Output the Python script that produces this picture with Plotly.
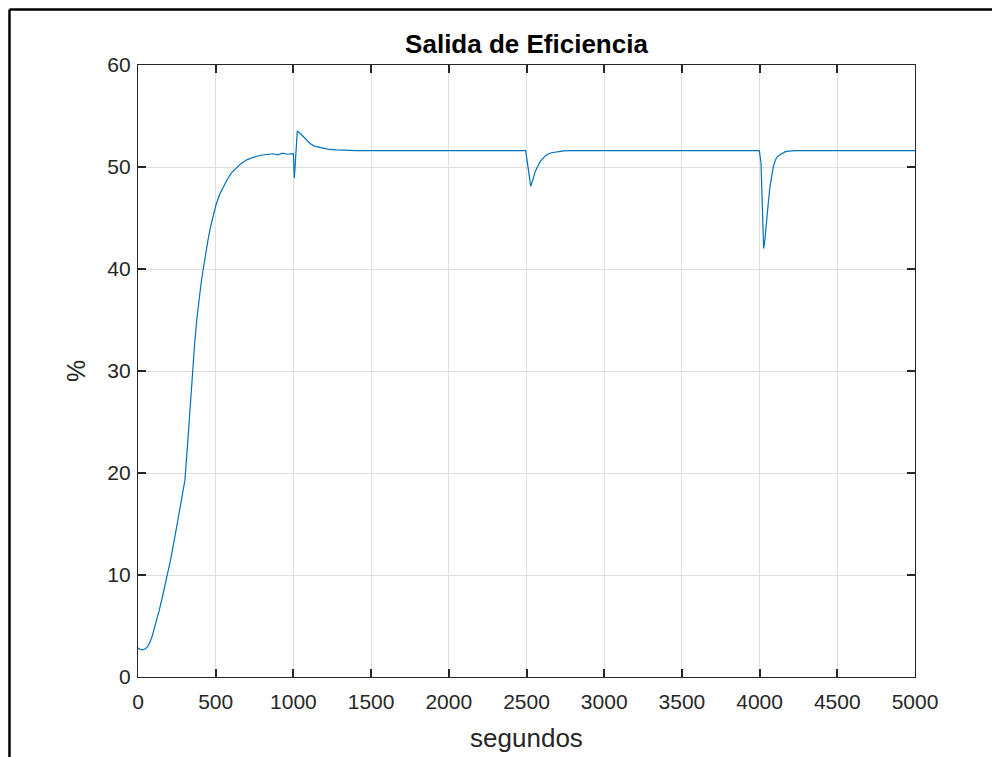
import plotly.graph_objects as go

# Data
tiempo = [0, 15, 30, 45, 60, 75, 90, 105, 120, 136, 152, 168, 185, 210, 245, 281, 302,
          320, 335, 352, 365, 378, 392, 406, 420, 435, 450, 465, 480, 500, 525, 550,
          575, 600, 630, 660, 700, 742, 790, 828, 870, 900, 930, 960, 1000,
          1006, 1025, 1040, 1064, 1085, 1107, 1135, 1171, 1220, 1279, 1400,
          2495, 2527, 2540, 2555, 2570, 2587, 2608, 2630, 2660, 2694, 2740, 2780,
          3998, 4009, 4026, 4035, 4046, 4056, 4067, 4078, 4088, 4100, 4110, 4131,
          4166, 4200, 4238, 5000]
eficiencia = [2.85, 2.7, 2.65, 2.75, 2.95, 3.35, 3.95, 4.7, 5.6, 6.5, 7.5, 8.6, 9.8,
              11.5, 14.4, 17.4, 19.3,
              23.0, 26.5, 30.0, 32.8, 35.0, 37.0, 38.6, 40.0, 41.5, 42.8, 44.0, 45.0,
              46.2, 47.3, 48.1, 48.8, 49.4, 49.9, 50.3, 50.7, 50.95, 51.15, 51.25,
              51.3, 51.2, 51.35, 51.25, 51.3,
              48.9, 53.5, 53.35, 53.0, 52.6, 52.3, 52.05, 51.9, 51.75, 51.68, 51.6,
              51.6, 48.1, 48.7, 49.5, 50.0, 50.5, 50.9, 51.2, 51.4, 51.5, 51.58, 51.6,
              51.6, 50.4, 42.0, 43.0, 44.5, 46.5, 48.1, 49.3, 50.0, 50.6, 50.95, 51.2,
              51.5, 51.58, 51.6, 51.6]

x_ticks = [0, 500, 1000, 1500, 2000, 2500, 3000, 3500, 4000, 4500, 5000]
y_ticks = [0, 10, 20, 30, 40, 50, 60]

titulo = "Salida de Eficiencia"
x_label = "segundos"
y_label = "%"

FONT = "Liberation Sans, Arial, Helvetica, sans-serif"
AX = "#262626"

fig = go.Figure()
fig.add_trace(go.Scatter(x=tiempo, y=eficiencia, mode="lines",
                         line=dict(color="#0072BD", width=1.2), showlegend=False))

axis_common = dict(
    showline=True, linecolor=AX, linewidth=1.3, mirror="allticks",
    ticks="inside", ticklen=8, tickwidth=1.5, tickcolor=AX,
    showgrid=True, gridcolor="#dfdfdf", gridwidth=1,
    zeroline=False, tickfont=dict(family=FONT, size=21, color=AX),
)

fig.update_xaxes(range=[0, 5000], tickvals=x_ticks, ticktext=[str(v) for v in x_ticks],
                 ticklabelstandoff=6,
                 title=dict(text=x_label, font=dict(family=FONT, size=26, color=AX), standoff=16),
                 **axis_common)
fig.update_yaxes(range=[0, 60], tickvals=y_ticks, ticktext=[str(v) for v in y_ticks],
                 ticklabelstandoff=2,
                 title=dict(text=y_label, font=dict(family=FONT, size=25, color=AX), standoff=14),
                 **axis_common)

fig.update_layout(
    width=992, height=749,
    margin=dict(l=130, r=85, t=57, b=80, autoexpand=False),
    paper_bgcolor="white", plot_bgcolor="white",
    title=dict(text="<b>" + titulo + "</b>", x=0.5, xref="paper", xanchor="center",
               y=1 - 36 / 749, yref="container", yanchor="middle",
               font=dict(family=FONT, size=26, color="black")),
    shapes=[
        dict(type="line", xref="paper", yref="paper", x0=-0.1654, x1=1.12,
             y0=1.0907, y1=1.0907, line=dict(color="black", width=2.5)),
        dict(type="line", xref="paper", yref="paper", x0=-0.1654, x1=-0.1654,
             y0=1.0907, y1=-0.16, line=dict(color="black", width=2.5)),
    ],
)

fig.write_html("out.html")
